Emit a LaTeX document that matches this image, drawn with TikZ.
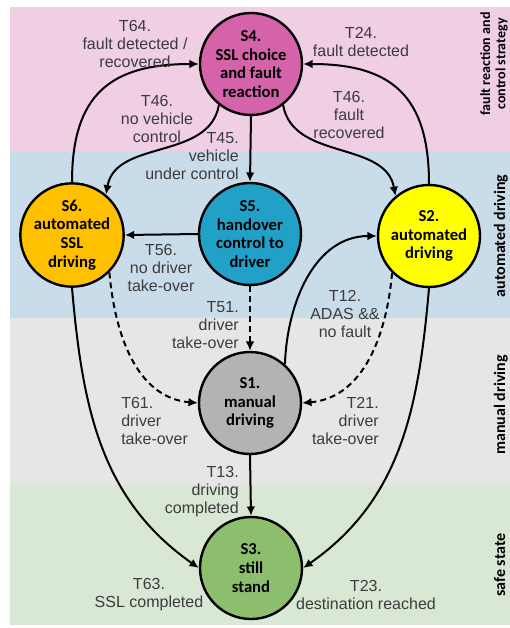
\documentclass[tikz,border=0pt]{standalone}
\usepackage{fontspec}
\setmainfont{Liberation Sans}
\newfontfamily\carlito{Carlito}
\usepackage{tikz}
\usetikzlibrary{arrows.meta}
\definecolor{bandpink}{HTML}{F0CEE3}
\definecolor{bandblue}{HTML}{C9DCEA}
\definecolor{bandgrey}{HTML}{E6E6E6}
\definecolor{bandgreen}{HTML}{D9E8D5}
\definecolor{cfour}{HTML}{D563A9}
\definecolor{csix}{HTML}{FFC000}
\definecolor{cfive}{HTML}{21A0C8}
\definecolor{ctwo}{HTML}{FFFF00}
\definecolor{cone}{HTML}{B3B3B3}
\definecolor{cthree}{HTML}{8CBE6E}
\definecolor{lbl}{HTML}{3C3C3C}
\tikzset{
  state/.style={circle,draw,line width=1.8pt,minimum size=76.5pt,inner sep=0pt,align=center,
    font=\carlito\bfseries\fontsize{12.5}{14}\selectfont},
  trans/.style={line width=1.5pt,-{Latex[length=7pt,width=6.5pt]}},
  dtrans/.style={trans,dash pattern=on 4.5pt off 3pt},
  trlabel/.style={align=center,text=lbl,inner sep=0pt,font=\fontsize{12}{13.5}\selectfont},
  lane/.style={rotate=90,inner sep=0pt,align=center,font=\carlito\bfseries\fontsize{12}{12}\selectfont}
}

\begin{document}
\begin{tikzpicture}[x=0.75pt,y=0.75pt]
  \useasboundingbox (0,0) rectangle (510,-628);
  \clip (0,0) rectangle (510,-628);
  % lanes
  \fill[bandpink] (10,-7) rectangle (510,-151);
  \fill[bandblue] (10,-151) rectangle (510,-318);
  \fill[bandgrey] (10,-318) rectangle (510,-485);
  \fill[bandgreen] (10,-485) rectangle (510,-625);
  \node[lane,font=\carlito\bfseries\fontsize{10.5}{11.5}\selectfont] (lfault) at (494,-64) {fault reaction and\\control strategy};
  \node[lane,anchor=base] (lauto) at (505,-236) {automated driving};
  \node[lane,anchor=base] (lmanual) at (505,-405) {manual driving};
  \node[lane,anchor=base] (lsafe) at (505,-565) {safe state};

  % states
  \node[state,fill=cfour] (s4) at (251,-64) {S4.\\SSL choice\\and fault\\reaction};
  \node[state,fill=csix] (s6) at (72,-235) {S6.\\automated\\SSL\\driving};
  \node[state,fill=cfive] (s5) at (250,-234) {S5.\\handover\\control to\\driver};
  \node[state,fill=ctwo] (s2) at (429,-236) {S2.\\automated\\driving};
  \node[state,fill=cone] (s1) at (250,-403) {S1.\\manual\\driving};
  \node[state,fill=cthree] (s3) at (251,-568) {S3.\\still\\stand};

  % transitions
  \draw[trans] (s6.north) to[out=90,in=180,looseness=1.3] (s4.west);
  \draw[trans] (s2.north) to[out=90,in=0,looseness=1.3] (s4.east);
  \draw[trans] (s4.232) to[out=260,in=80] (s6.50);
  \draw[trans] (s4.308) to[out=280,in=100] (s2.130);
  \draw[trans] (s4.south) -- (s5.north);
  \draw[trans] (s5.west) -- (s6.east);
  \draw[dtrans] (s5.south) -- (s1.north);
  \draw[dtrans] (s6.-45) to[out=-85,in=175] (s1.west);
  \draw[dtrans] (s2.225) to[out=-95,in=5] (s1.east);
  \draw[trans] (s1.48) to[out=88,in=180] (s2.west);
  \draw[trans] (s1.south) -- (s3.north);
  \draw[trans] (s6.south) to[out=-85,in=145] (s3.west);
  \draw[trans] (s2.south) to[out=-95,in=35] (s3.east);

  % transition labels
  \node[trlabel] (t64) at (135,-44) {T64.\\fault detected /\\recovered};
  \node[trlabel] (t24) at (361,-42) {T24.\\fault detected};
  \node[trlabel] (t46a) at (157,-119) {T46.\\no vehicle\\control};
  \node[trlabel] (t46b) at (349,-115) {T46.\\fault\\recovered};
  \node[trlabel,align=right,anchor=east] (t45) at (239,-156) {T45.\\vehicle\\under control};
  \node[trlabel] (t56) at (161,-268) {T56.\\no driver\\take-over};
  \node[trlabel,align=right,anchor=east] (t51) at (239,-325) {T51.\\driver\\take-over};
  \node[trlabel] (t12) at (345,-314) {T12.\\ADAS \&\&\\no fault};
  \node[trlabel,align=left,anchor=west] (t61) at (121,-421) {T61.\\driver\\take-over};
  \node[trlabel,align=right,anchor=east] (t21) at (379,-421) {T21.\\driver\\take-over};
  \node[trlabel,align=right,anchor=east] (t13) at (239,-492) {T13.\\driving\\completed};
  \node[trlabel] (t63) at (149,-595) {T63.\\SSL completed};
  \node[trlabel] (t23) at (366,-595) {T23.\\destination reached};
\end{tikzpicture}
\end{document}
